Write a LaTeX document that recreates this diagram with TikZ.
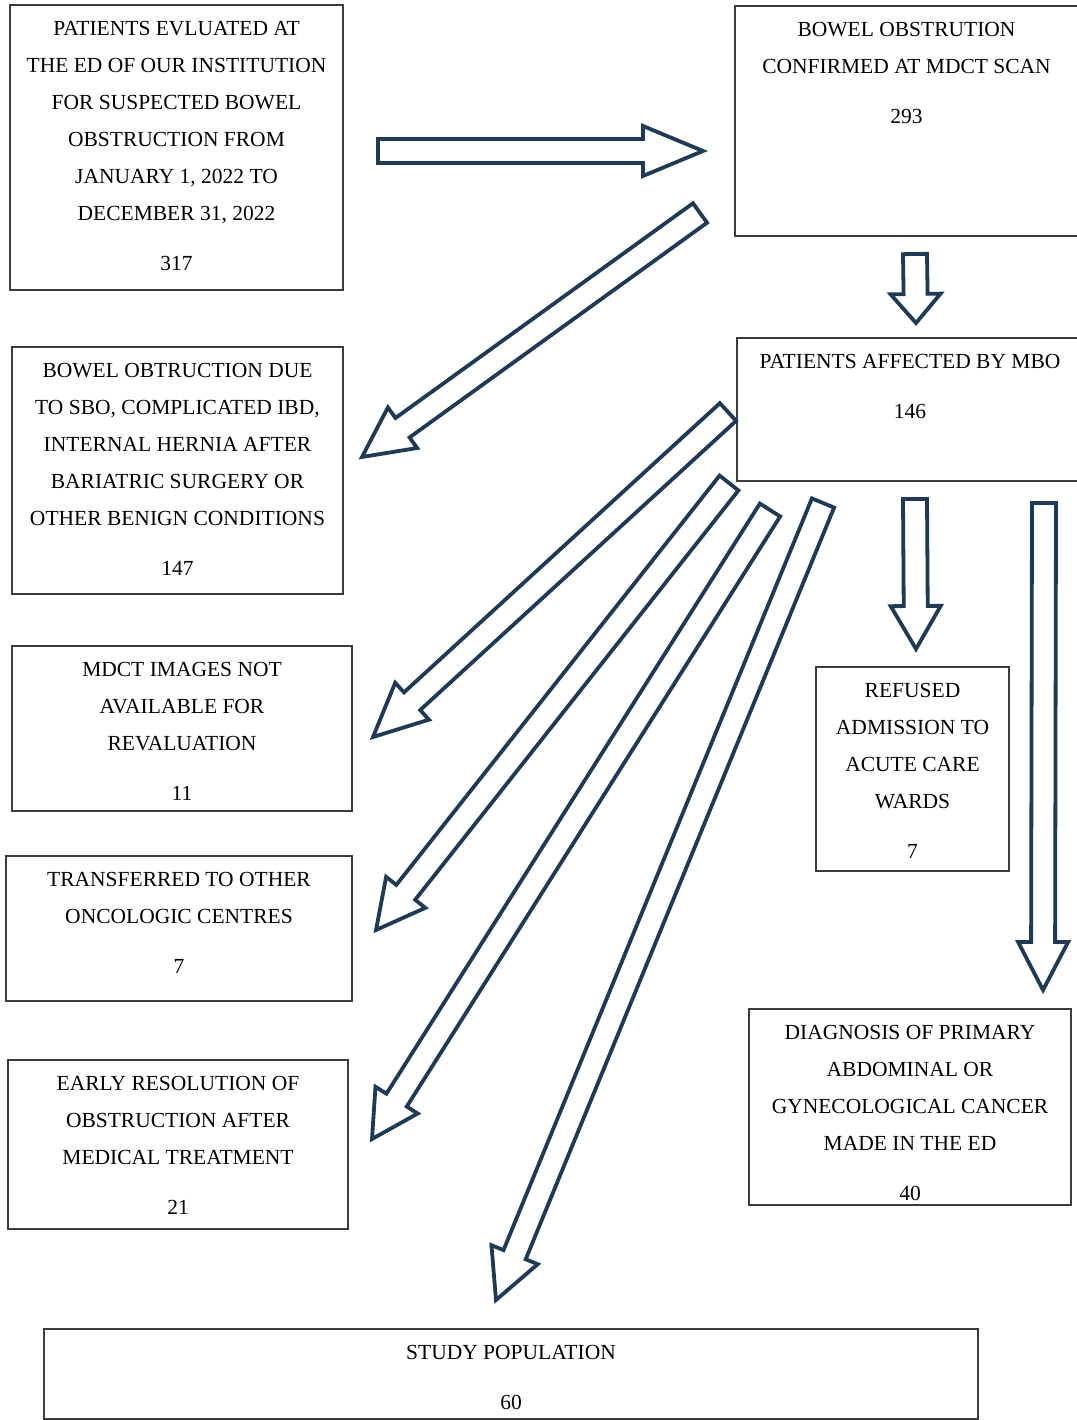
\documentclass[tikz,border=0pt]{standalone}
\usepackage{fontspec}
\setmainfont{Liberation Serif}
\usetikzlibrary{calc}
\definecolor{anavy}{HTML}{1F3A55}
\definecolor{boxline}{HTML}{3C3C3C}
\tikzset{
  boxnode/.style={draw=boxline, line width=1.2pt, inner sep=0pt},
  boxtext/.style={align=center, inner sep=0pt, anchor=north, yshift=-16.5pt,
                  font=\fontsize{21.5}{37}\selectfont},
  barrow/.style={draw=anavy, fill=white, line width=3.8pt, line join=miter},
}
% hollow block arrow: [head length]{tail}{tip}
\newcommand{\blockarrow}[3][50pt]{%
  \path ($(#3)!#1!(#2)$) coordinate (hb);
  \draw[barrow] ($(#2)!12pt!90:(#3)$) -- ($(hb)!12pt!-90:(#2)$) -- ($(hb)!25pt!-90:(#2)$)
    -- (#3) -- ($(hb)!25pt!90:(#2)$) -- ($(hb)!12pt!90:(#2)$) -- ($(#2)!12pt!-90:(#3)$) -- cycle;
}

\begin{document}
\begin{tikzpicture}[x=1pt, y=-1pt]
  \useasboundingbox (0,0) rectangle (1076,1420);

  \node[boxnode, minimum width=333, minimum height=285] (eval) at (176.5,147.5) {};
  \node[boxtext] (evaltxt) at (eval.north) {PATIENTS EVLUATED AT\\ THE ED OF OUR INSTITUTION\\ FOR SUSPECTED BOWEL\\ OBSTRUCTION FROM\\ JANUARY 1, 2022 TO\\ DECEMBER 31, 2022\\[13pt] 317};

  \node[boxnode, minimum width=343, minimum height=230] (ct) at (906.5,121) {};
  \node[boxtext] (cttxt) at (ct.north) {BOWEL OBSTRUTION\\ CONFIRMED AT MDCT SCAN\\[13pt] 293};

  \node[boxnode, minimum width=331, minimum height=247] (benign) at (177.5,470.5) {};
  \node[boxtext] (benigntxt) at (benign.north) {BOWEL OBTRUCTION DUE\\ TO SBO, COMPLICATED IBD,\\ INTERNAL HERNIA AFTER\\ BARIATRIC SURGERY OR\\ OTHER BENIGN CONDITIONS\\[13pt] 147};

  \node[boxnode, minimum width=346, minimum height=143] (mbo) at (910,409.5) {};
  \node[boxtext] (mbotxt) at (mbo.north) {PATIENTS AFFECTED BY MBO\\[13pt] 146};

  \node[boxnode, minimum width=340, minimum height=165] (nomdct) at (182,728.5) {};
  \node[boxtext] (nomdcttxt) at (nomdct.north) {MDCT IMAGES NOT\\ AVAILABLE FOR\\ REVALUATION\\[13pt] 11};

  \node[boxnode, minimum width=346, minimum height=145] (transf) at (179,928.5) {};
  \node[boxtext] (transftxt) at (transf.north) {TRANSFERRED TO OTHER\\ ONCOLOGIC CENTRES\\[13pt] 7};

  \node[boxnode, minimum width=340, minimum height=169] (early) at (178,1144.5) {};
  \node[boxtext] (earlytxt) at (early.north) {EARLY RESOLUTION OF\\ OBSTRUCTION AFTER\\ MEDICAL TREATMENT\\[13pt] 21};

  \node[boxnode, minimum width=193, minimum height=204] (refused) at (912.5,769) {};
  \node[boxtext] (refusedtxt) at (refused.north) {REFUSED\\ ADMISSION TO\\ ACUTE CARE\\ WARDS\\[13pt] 7};

  \node[boxnode, minimum width=322, minimum height=196] (diag) at (910,1107) {};
  \node[boxtext] (diagtxt) at (diag.north) {DIAGNOSIS OF PRIMARY\\ ABDOMINAL OR\\ GYNECOLOGICAL CANCER\\ MADE IN THE ED\\[13pt] 40};

  \node[boxnode, minimum width=934, minimum height=90] (study) at (511,1374) {};
  \node[boxtext] (studytxt) at (study.north) {STUDY POPULATION\\[13pt] 60};

  % arrow ends
  \coordinate (eval-out) at (378,151);    \coordinate (ct-in) at (703,151);
  \coordinate (ct-out) at (915,254);      \coordinate (mbo-in) at (916,323);
  \coordinate (ct-out2) at (700,213);     \coordinate (benign-in) at (362,457);
  \coordinate (mbo-out1) at (728,412);    \coordinate (nomdct-in) at (373,737);
  \coordinate (mbo-out2) at (729,483);    \coordinate (transf-in) at (376,930);
  \coordinate (mbo-out3) at (770,510);    \coordinate (early-in) at (372,1139);
  \coordinate (mbo-out4) at (823,503);    \coordinate (study-in) at (496,1300);
  \coordinate (mbo-out5) at (915,499);    \coordinate (refused-in) at (916,649);
  \coordinate (mbo-out6) at (1044,503);   \coordinate (diag-in) at (1043,990);

  \blockarrow[60pt]{eval-out}{ct-in}
  \blockarrow[29pt]{ct-out}{mbo-in}
  \blockarrow[50pt]{ct-out2}{benign-in}
  \blockarrow[53pt]{mbo-out1}{nomdct-in}
  \blockarrow[48pt]{mbo-out2}{transf-in}
  \blockarrow[46pt]{mbo-out3}{early-in}
  \blockarrow[49pt]{mbo-out4}{study-in}
  \blockarrow[43pt]{mbo-out5}{refused-in}
  \blockarrow[48pt]{mbo-out6}{diag-in}

\end{tikzpicture}
\end{document}
